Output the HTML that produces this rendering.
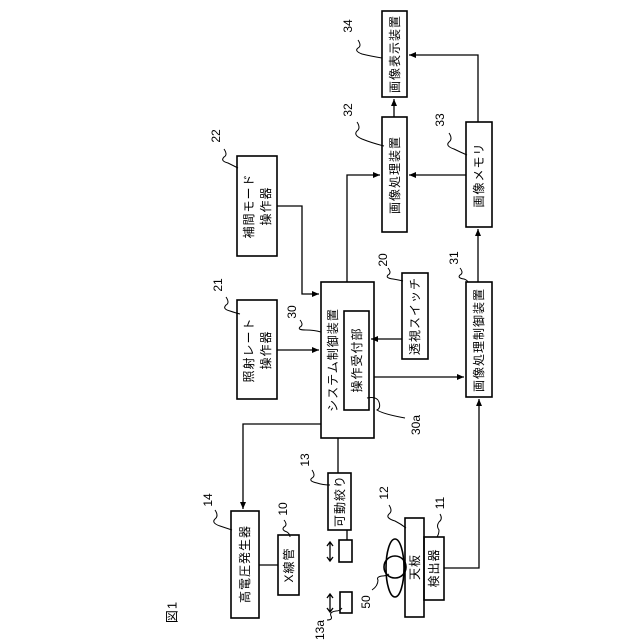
<!DOCTYPE html>
<html><head><meta charset="utf-8"><style>
html,body{margin:0;padding:0;background:#fff;}
svg{display:block;}
text{font-family:"Liberation Sans","Noto Sans CJK JP",sans-serif;fill:#000;}
.b{font-size:12px;letter-spacing:1px;}
.n{font-size:12px;}
</style></head><body>
<svg width="640" height="640" viewBox="0 0 640 640" xmlns="http://www.w3.org/2000/svg">
<defs><marker id="a" markerWidth="8" markerHeight="8" refX="7" refY="4" orient="auto" markerUnits="userSpaceOnUse"><path d="M0,1 L7,4 L0,7 z" fill="#000"/></marker></defs>
<g fill="none" stroke="#000" stroke-width="1.6">
<rect x="382" y="11" width="25" height="86"/>
<rect x="382" y="117" width="25" height="115"/>
<rect x="466" y="122" width="26" height="105"/>
<rect x="237" y="156" width="40" height="100"/>
<rect x="237" y="300" width="40" height="99"/>
<rect x="321" y="282" width="53" height="156"/>
<rect x="344" y="311" width="25" height="99"/>
<rect x="402" y="273" width="26" height="86"/>
<rect x="466" y="282" width="26" height="115"/>
<rect x="231" y="511" width="28" height="107"/>
<rect x="278" y="535" width="21" height="60"/>
<rect x="328" y="473" width="23" height="57"/>
<rect x="339" y="540" width="13" height="22"/>
<rect x="340" y="592" width="12" height="21"/>
<rect x="405" y="518" width="19" height="99"/>
<rect x="424" y="537" width="20" height="63"/>
<ellipse cx="395" cy="568" rx="9" ry="29"/>
<circle cx="395" cy="567" r="11"/>
</g>
<g fill="none" stroke="#000" stroke-width="1.3">
<path d="M394 117 V99" marker-end="url(#a)"/>
<path d="M478 122 V55 H409" marker-end="url(#a)"/>
<path d="M466 175 H409" marker-end="url(#a)"/>
<path d="M347 282 V175 H380" marker-end="url(#a)"/>
<path d="M277 206 H302 V294 H319" marker-end="url(#a)"/>
<path d="M277 350 H319" marker-end="url(#a)"/>
<path d="M402 339 H371" marker-end="url(#a)"/>
<path d="M374 377 H464" marker-end="url(#a)"/>
<path d="M478 282 V229" marker-end="url(#a)"/>
<path d="M321 424 H243 V509" marker-end="url(#a)"/>
<path d="M259 565 H278"/>
<path d="M338 438 V473"/>
<path d="M347 530 V540"/>
<path d="M444 568 H479 V399" marker-end="url(#a)"/>
<path d="M330 543 V560 M327 546 L330 542 L333 546 M327 557 L330 561 L333 557"/>
<path d="M330 595 V611 M327 598 L330 594 L333 598 M327 608 L330 612 L333 608"/>
</g>
<g fill="none" stroke="#000" stroke-width="1">
<path d="M358 40 q4 6 0 8 q-4 3 4 6 q8 2 20 4"/>
<path d="M357 122 q4 6 0 9 q-4 4 5 8 q10 4 22 7"/>
<path d="M449 133 q4 6 0 9 q-4 4 5 7 q6 3 13 6"/>
<path d="M224 149 q4 6 0 8 q-4 4 4 6 q6 3 10 5"/>
<path d="M226 297 q4 6 0 8 q-4 4 4 6 q6 2 10 3"/>
<path d="M300 320 q4 5 0 7 q-3 3 6 3 q8 0 15 2"/>
<path d="M388 268 q4 5 0 7 q-3 3 5 4 q6 1 10 2"/>
<path d="M460 268 q4 5 0 7 q-3 3 4 4 q3 1 4 3"/>
<path d="M367 398 q10 -2 12 4 q2 6 -2 8 q6 4 28 8"/>
<path d="M215 510 q4 6 0 9 q-4 4 5 7 q6 2 12 4"/>
<path d="M284 520 q4 5 0 7 q-3 3 3 5 q3 2 3 5"/>
<path d="M312 470 q4 6 0 8 q-4 3 5 5 q6 2 13 2"/>
<path d="M389 505 q4 6 0 9 q-4 4 6 7 q6 3 11 7"/>
<path d="M440 514 q3 5 -1 8 q-3 4 0 8 q0 4 -2 7"/>
<path d="M372 590 q6 -4 6 -10 q-2 -3 4 -4 q4 0 7 -2"/>
<path d="M327 620 q6 0 4 -4 q-2 -4 5 -5 q4 0 6 -3"/>
</g>
<g class="b" text-anchor="middle" dominant-baseline="central">
<text transform="translate(395,54) rotate(-90)">画像表示装置</text>
<text transform="translate(395,175) rotate(-90)">画像処理装置</text>
<text transform="translate(479,175) rotate(-90)">画像メモリ</text>
<text transform="translate(249,206) rotate(-90)">補間モード</text>
<text transform="translate(266,206) rotate(-90)">操作器</text>
<text transform="translate(249,350) rotate(-90)">照射レート</text>
<text transform="translate(266,350) rotate(-90)">操作器</text>
<text transform="translate(333,360) rotate(-90)">システム制御装置</text>
<text transform="translate(357,360) rotate(-90)">操作受付部</text>
<text transform="translate(415,316) rotate(-90)">透視スイッチ</text>
<text transform="translate(479,340) rotate(-90)">画像処理制御装置</text>
<text transform="translate(245,564) rotate(-90)">高電圧発生器</text>
<text transform="translate(289,565) rotate(-90)">X線管</text>
<text transform="translate(340,501) rotate(-90)">可動絞り</text>
<text transform="translate(415,567) rotate(-90)">天板</text>
<text transform="translate(434,568) rotate(-90)">検出器</text>
<text transform="translate(172,612) rotate(-90)" style="font-size:13px">図1</text>
</g>
<g class="n" text-anchor="middle" dominant-baseline="central">
<text transform="translate(348,26) rotate(-90)">34</text>
<text transform="translate(348,110) rotate(-90)">32</text>
<text transform="translate(440,120) rotate(-90)">33</text>
<text transform="translate(216,136) rotate(-90)">22</text>
<text transform="translate(218,285) rotate(-90)">21</text>
<text transform="translate(292,312) rotate(-90)">30</text>
<text transform="translate(383,260) rotate(-90)">20</text>
<text transform="translate(454,258) rotate(-90)">31</text>
<text transform="translate(416,425) rotate(-90)">30a</text>
<text transform="translate(208,500) rotate(-90)">14</text>
<text transform="translate(283,509) rotate(-90)">10</text>
<text transform="translate(305,460) rotate(-90)">13</text>
<text transform="translate(384,493) rotate(-90)">12</text>
<text transform="translate(440,503) rotate(-90)">11</text>
<text transform="translate(366,602) rotate(-90)">50</text>
<text transform="translate(320,630) rotate(-90)">13a</text>
</g>
</svg>
</body></html>
